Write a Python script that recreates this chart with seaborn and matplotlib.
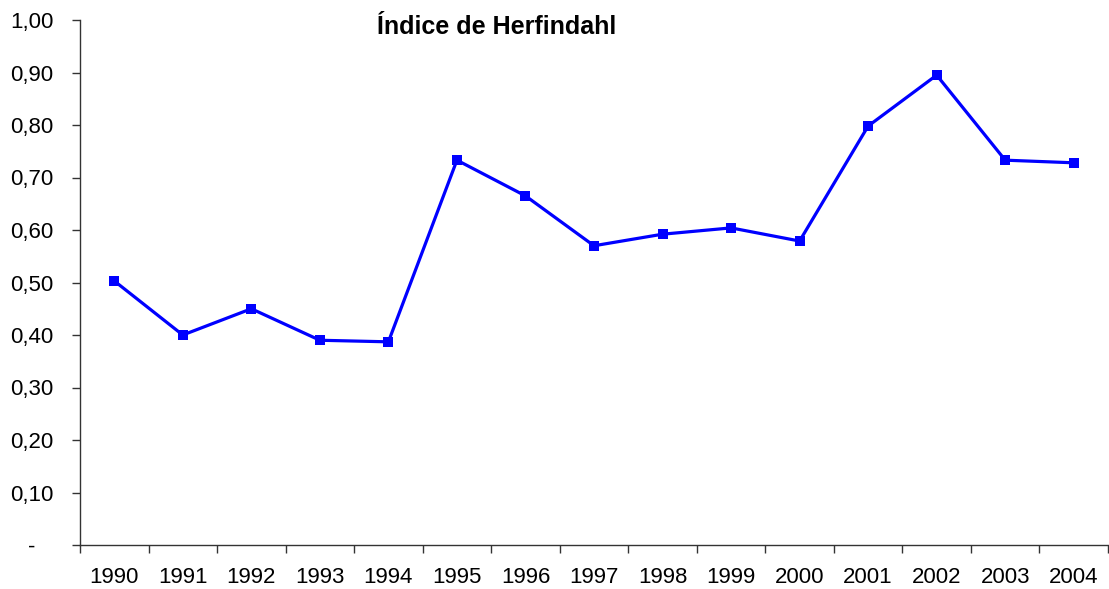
import numpy as np
import seaborn as sns
from matplotlib import pyplot as plt
from matplotlib.ticker import FixedLocator, FuncFormatter

years = [1990, 1991, 1992, 1993, 1994, 1995, 1996, 1997,
         1998, 1999, 2000, 2001, 2002, 2003, 2004]
herfindahl = [0.503, 0.400, 0.450, 0.390, 0.387, 0.733, 0.665, 0.570,
              0.592, 0.604, 0.579, 0.798, 0.895, 0.733, 0.728]
y_ticks = [0.0, 0.1, 0.2, 0.3, 0.4, 0.5, 0.6, 0.7, 0.8, 0.9, 1.0]

sns.set_style("white")
plt.rcParams['font.family'] = ['Liberation Sans', 'DejaVu Sans']
plt.rcParams['text.color'] = 'black'

fig = plt.figure(figsize=(11.09, 5.89), dpi=100)
ax = fig.add_axes([80 / 1109, 44 / 589, 1028 / 1109, 525 / 589])

sns.lineplot(x=years, y=herfindahl, ax=ax, color="#0000ff",
             linewidth=2.3, marker="s", markersize=7,
             markeredgewidth=0, markerfacecolor="#0000ff")

ax.set_xlim(years[0] - 0.5, years[-1] + 0.5)
ax.set_ylim(0, 1.0)

# Excel style: ticks between categories, labels in the middle
ax.xaxis.set_major_locator(FixedLocator(np.arange(years[0] - 0.5, years[-1] + 1)))
ax.xaxis.set_major_formatter(FuncFormatter(lambda v, p: ""))
ax.xaxis.set_minor_locator(FixedLocator(years))
ax.xaxis.set_minor_formatter(FuncFormatter(lambda v, p: f"{int(round(v))}"))
ax.tick_params(axis="x", which="major", direction="out", length=6,
               width=1, color="#333333", bottom=True)
ax.tick_params(axis="x", which="minor", length=0, pad=15.5,
               labelsize=16, labelcolor="black", bottom=True)

ax.set_yticks(y_ticks)
ax.yaxis.set_major_formatter(FuncFormatter(
    lambda v, p: "-   " if abs(v) < 1e-9 else f"{v:.2f}".replace(".", ",")))
ax.tick_params(axis="y", direction="out", length=6, width=1,
               color="#333333", pad=13, labelsize=16,
               labelcolor="black", left=True)

for side in ["top", "right"]:
    ax.spines[side].set_visible(False)
for side in ["left", "bottom"]:
    ax.spines[side].set_color("#333333")
    ax.spines[side].set_linewidth(1)

ax.set_xlabel("")
ax.set_ylabel("")
fig.text(497 / 1109, 1 - 27 / 589, "Índice de Herfindahl", ha="center",
         va="center", fontsize=18, fontweight="bold", color="black")

fig.savefig("out.png", dpi=100)
